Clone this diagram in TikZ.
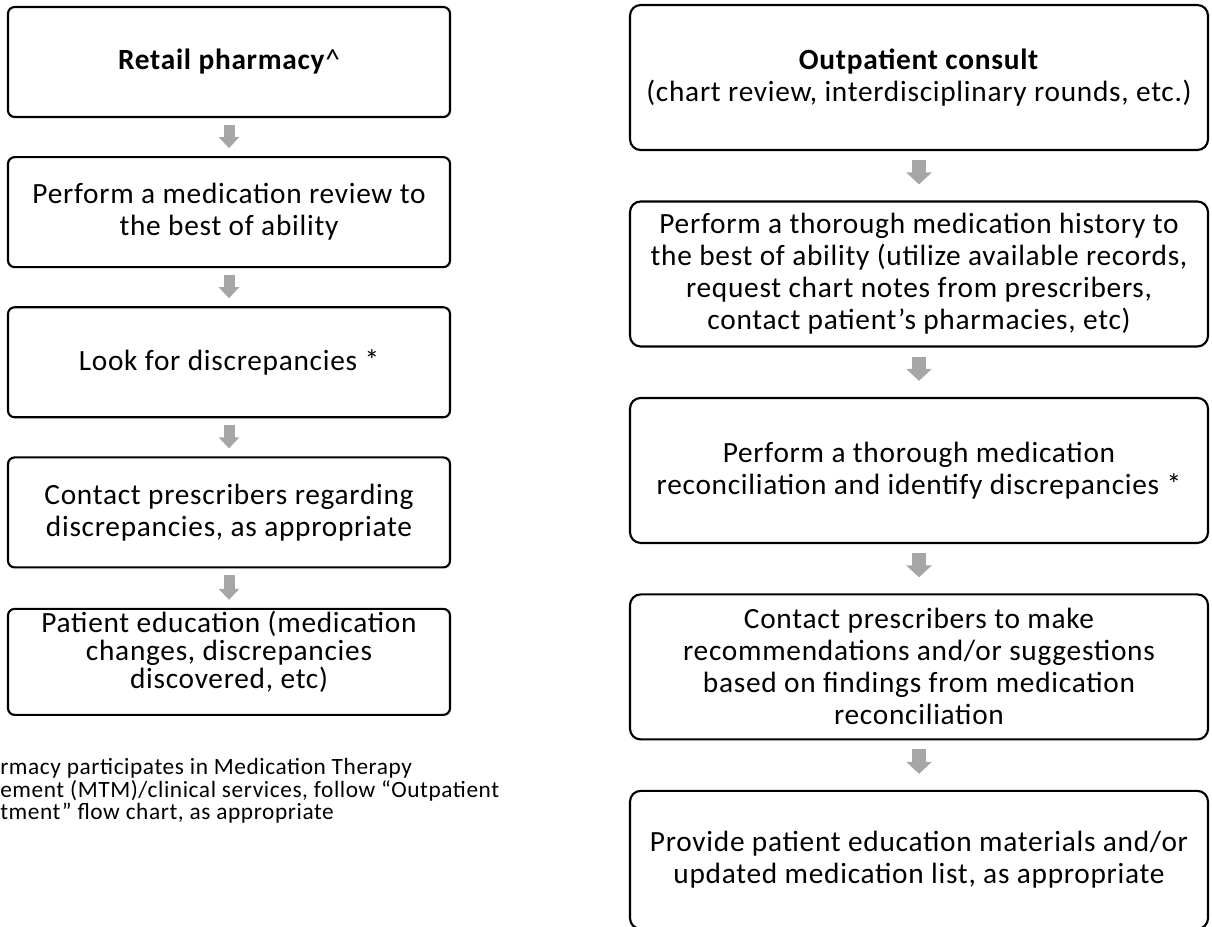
\documentclass[tikz,border=0pt]{standalone}
\usepackage{fontspec}
\setmainfont[LetterSpace=2.5]{Carlito}
\usetikzlibrary{arrows.meta}
\usetikzlibrary{positioning}
\definecolor{arrowgray}{HTML}{A6A6A6}
\tikzstyle{block} = [rectangle, draw, line width=1.6pt, align=center,
    inner sep=2pt, font=\fontsize{22}{24}\selectfont]
\tikzstyle{leftblock} = [block, rounded corners=5pt,
    minimum width=331.5pt, minimum height=82.5pt]
\tikzstyle{rightblock} = [block, rounded corners=8pt,
    minimum width=433.5pt, minimum height=108.75pt]
\tikzstyle{line} = [draw=arrowgray, line width=8.25pt,
    -{Triangle[width=15pt,length=8.25pt]}, shorten <=5.25pt, shorten >=6pt]
\tikzstyle{thickline} = [line, line width=10.5pt,
    -{Triangle[width=18.75pt,length=9pt]}, shorten <=6.75pt, shorten >=12pt]
\tikzstyle{note} = [align=left, inner sep=0pt, anchor=north west,
    font=\fontsize{17.5}{17}\selectfont]

\begin{document}
\begin{tikzpicture}[x=0.75pt, y=-0.75pt]
  \useasboundingbox (0,0) rectangle (1212,926);
  % Retail pharmacy column
  \node [leftblock] (l1) at (229,62) {\textbf{Retail pharmacy}\textasciicircum};
  \node [leftblock, below=28.5pt of l1] (l2) {Perform a medication review to\\the best of ability};
  \node [leftblock, below=28.5pt of l2] (l3) {Look for discrepancies *};
  \node [leftblock, below=28.5pt of l3] (l4) {Contact prescribers regarding\\discrepancies, as appropriate};
  \node [leftblock, below=29.5pt of l4, minimum height=79.5pt, inner ysep=0.5pt,
         text depth=18pt, font=\fontsize{22}{21}\selectfont] (l5) {Patient education (medication\\changes, discrepancies\\discovered, etc)};
  \node [note] (note) at (0,758) {rmacy participates in Medication Therapy\\ement (MTM)/clinical services, follow “Outpatient\\tment” flow chart, as appropriate};

  % Outpatient consult column
  \node [rightblock] (r1) at (919,77.5) {\textbf{Outpatient consult}\\(chart review, interdisciplinary rounds, etc.)};
  \node [rightblock, below=37pt of r1] (r2) {Perform a thorough medication history to\\the best of ability (utilize available records,\\request chart notes from prescribers,\\contact patient's pharmacies, etc)};
  \node [rightblock, below=37pt of r2] (r3) {Perform a thorough medication\\reconciliation and identify discrepancies *};
  \node [rightblock, below=37pt of r3] (r4) {Contact prescribers to make\\recommendations and/or suggestions\\based on findings from medication\\reconciliation};
  \node [rightblock, below=37pt of r4, minimum height=103.5pt] (r5) {Provide patient education materials and/or\\updated medication list, as appropriate};

  %paths
  \path [line] (l1) -- (l2);
  \path [line] (l2) -- (l3);
  \path [line] (l3) -- (l4);
  \path [line] (l4) -- (l5);

  \path [thickline] (r1) -- (r2);
  \path [thickline] (r2) -- (r3);
  \path [thickline] (r3) -- (r4);
  \path [thickline] (r4) -- (r5);
\end{tikzpicture}
\end{document}
